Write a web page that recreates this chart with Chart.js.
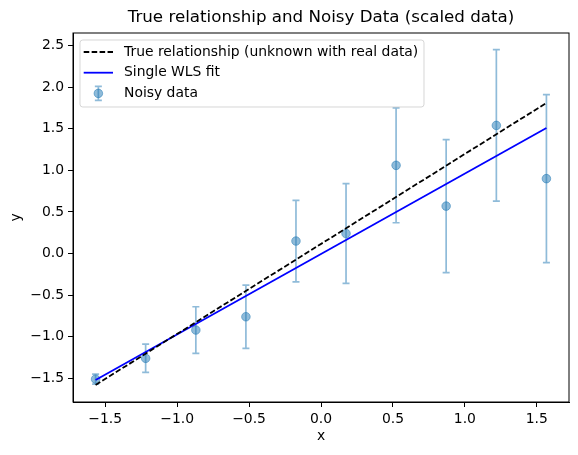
<!DOCTYPE html>
<html>
<head>
<meta charset="utf-8">
<script src="https://cdn.jsdelivr.net/npm/chart.js@4.4.1/dist/chart.umd.min.js"></script>
<style>
  html, body { margin: 0; padding: 0; background: #fff; }
  #wrap { width: 578px; height: 455px; position: relative; }
</style>
</head>
<body>
<div id="wrap"><canvas id="chart"></canvas></div>
<script>
// ─── data ───
const xData = [-1.567, -1.219, -0.870, -0.522, -0.174, 0.174, 0.522, 0.870, 1.219, 1.567];
const yData = [-1.51, -1.26, -0.92, -0.76, 0.15, 0.24, 1.06, 0.57, 1.54, 0.90];
const yErr  = [0.06, 0.17, 0.28, 0.38, 0.49, 0.60, 0.69, 0.80, 0.91, 1.01];

const lineX    = [-1.567, 1.567];
const trueY    = [-1.58, 1.81];
const wlsY     = [-1.52, 1.51];

const xTicks = [-1.5, -1.0, -0.5, 0.0, 0.5, 1.0, 1.5];
const yTicks = [-1.5, -1.0, -0.5, 0.0, 0.5, 1.0, 1.5, 2.0, 2.5];

const FONT = '"DejaVu Sans", sans-serif';
const BLUE_A = 'rgba(31, 119, 180, 0.5)';

const fmt = v => (v < 0 ? '\u2212' : '') + Math.abs(v).toFixed(1);
const pts = (xs, ys) => xs.map((x, i) => ({ x: x, y: ys[i] }));

// error bars, frame, title, axis labels and legend
const decor = {
    id: 'decor',
    beforeDatasetsDraw(chart) {
        const { ctx, scales: { x, y } } = chart;
        ctx.save();
        ctx.strokeStyle = BLUE_A;
        ctx.lineWidth = 1.7;
        xData.forEach((xv, i) => {
            const px = x.getPixelForValue(xv);
            const top = y.getPixelForValue(yData[i] + yErr[i]);
            const bot = y.getPixelForValue(yData[i] - yErr[i]);
            ctx.beginPath();
            ctx.moveTo(px, top); ctx.lineTo(px, bot);
            ctx.moveTo(px - 3.5, top); ctx.lineTo(px + 3.5, top);
            ctx.moveTo(px - 3.5, bot); ctx.lineTo(px + 3.5, bot);
            ctx.stroke();
        });
        ctx.restore();
    },
    afterDraw(chart) {
        const { ctx, chartArea: a } = chart;
        ctx.save();
        // frame
        ctx.strokeStyle = '#000';
        ctx.lineWidth = 1;
        ctx.strokeRect(a.left, a.top, a.right - a.left, a.bottom - a.top);

        // title + axis labels
        ctx.fillStyle = '#000';
        ctx.textAlign = 'center';
        ctx.textBaseline = 'bottom';
        ctx.font = '16.7px ' + FONT;
        ctx.fillText('True relationship and Noisy Data (scaled data)', (a.left + a.right) / 2, a.top - 7);
        ctx.font = '13.9px ' + FONT;
        ctx.textBaseline = 'middle';
        ctx.fillText('x', (a.left + a.right) / 2, 436);
        ctx.save();
        ctx.translate(16, (a.top + a.bottom) / 2);
        ctx.rotate(-Math.PI / 2);
        ctx.fillText('y', 0, 0);
        ctx.restore();

        // legend
        const lx = a.left + 7, ly = a.top + 7, lw = 344, lh = 67;
        ctx.beginPath();
        ctx.roundRect(lx, ly, lw, lh, 2.8);
        ctx.fillStyle = 'rgba(255,255,255,0.8)';
        ctx.fill();
        ctx.strokeStyle = 'rgba(204,204,204,0.8)';
        ctx.lineWidth = 1;
        ctx.stroke();

        const rows = [ly + 12, ly + 32.7, ly + 53.4];
        const hx0 = lx + 3.7, hx1 = lx + 33, tx = lx + 44;
        ctx.lineWidth = 1.8;
        ctx.strokeStyle = '#000';
        ctx.setLineDash([5.55, 2.4]);
        ctx.beginPath(); ctx.moveTo(hx0, rows[0]); ctx.lineTo(hx1, rows[0]); ctx.stroke();
        ctx.setLineDash([]);
        ctx.strokeStyle = '#0000ff';
        ctx.beginPath(); ctx.moveTo(hx0, rows[1]); ctx.lineTo(hx1, rows[1]); ctx.stroke();

        const mx = (hx0 + hx1) / 2, my = rows[2];
        ctx.strokeStyle = BLUE_A;
        ctx.lineWidth = 1.7;
        ctx.beginPath();
        ctx.moveTo(mx, my - 7); ctx.lineTo(mx, my + 7);
        ctx.moveTo(mx - 3.5, my - 7); ctx.lineTo(mx + 3.5, my - 7);
        ctx.moveTo(mx - 3.5, my + 7); ctx.lineTo(mx + 3.5, my + 7);
        ctx.stroke();
        ctx.beginPath();
        ctx.arc(mx, my, 4.3, 0, Math.PI * 2);
        ctx.fillStyle = BLUE_A;
        ctx.fill();
        ctx.lineWidth = 1;
        ctx.stroke();

        ctx.fillStyle = '#000';
        ctx.font = '13.9px ' + FONT;
        ctx.textAlign = 'left';
        ctx.textBaseline = 'middle';
        ctx.fillText('True relationship (unknown with real data)', tx, rows[0]);
        ctx.fillText('Single WLS fit', tx, rows[1]);
        ctx.fillText('Noisy data', tx, rows[2]);
        ctx.restore();
    }
};

const axisCommon = {
    type: 'linear',
    grid: { drawOnChartArea: false, drawTicks: true, tickLength: 5, color: '#000', lineWidth: 1 },
    border: { display: true, color: '#000', width: 1 },
    ticks: { color: '#000', font: { family: FONT, size: 13.9 }, padding: 4, callback: fmt }
};

new Chart(document.getElementById('chart'), {
    type: 'scatter',
    data: {
        datasets: [
            {
                label: 'True relationship (unknown with real data)',
                data: pts(lineX, trueY),
                showLine: true,
                borderColor: '#000',
                borderWidth: 1.8,
                borderDash: [5.55, 2.4],
                pointRadius: 0
            },
            {
                label: 'Single WLS fit',
                data: pts(lineX, wlsY),
                showLine: true,
                borderColor: '#0000ff',
                borderWidth: 1.8,
                pointRadius: 0
            },
            {
                label: 'Noisy data',
                data: pts(xData, yData),
                pointRadius: 4.3,
                pointBackgroundColor: BLUE_A,
                pointBorderColor: BLUE_A,
                pointBorderWidth: 1
            }
        ]
    },
    options: {
        responsive: true,
        maintainAspectRatio: false,
        animation: false,
        layout: { padding: { top: 33, right: 9, left: 0, bottom: 0 } },
        scales: {
            x: Object.assign({}, axisCommon, {
                min: -1.724, max: 1.724,
                afterBuildTicks: s => { s.ticks = xTicks.map(v => ({ value: v })); },
                afterFit: s => { s.height = 53; }
            }),
            y: Object.assign({}, axisCommon, {
                min: -1.785, max: 2.651,
                afterBuildTicks: s => { s.ticks = yTicks.map(v => ({ value: v })); },
                afterFit: s => { s.width = 73; }
            })
        },
        plugins: {
            legend: { display: false },
            tooltip: { enabled: false }
        }
    },
    plugins: [decor]
});
</script>
</body>
</html>
